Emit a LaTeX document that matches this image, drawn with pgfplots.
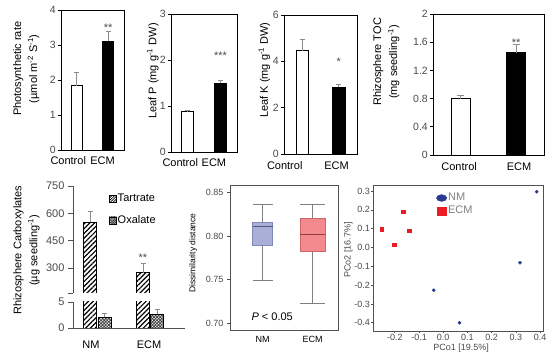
\documentclass[border=0pt]{standalone}
\usepackage{fontspec}
\setmainfont{Liberation Sans}
\usepackage{pgfplots}
\pgfplotsset{compat=1.18}
\usepgfplotslibrary{statistics}
\usetikzlibrary{patterns.meta}

\definecolor{tickgray}{HTML}{4A4A4A}
\definecolor{errgray}{HTML}{8C8C8C}
\definecolor{nmfill}{HTML}{A9AFD6}
\definecolor{nmedge}{HTML}{8088B5}
\definecolor{nmmed}{HTML}{4F567F}
\definecolor{ecmfill}{HTML}{F48A8E}
\definecolor{ecmedge}{HTML}{C8666A}
\definecolor{ecmmed}{HTML}{8E3C40}
\definecolor{pcblue}{HTML}{2B3990}
\definecolor{pcred}{HTML}{EC1C24}
\definecolor{boxgray}{HTML}{505050}

\newcommand\fA{\fontsize{11}{16}\selectfont}
\newcommand\fB{\fontsize{10.5}{12}\selectfont}
\newcommand\fC{\fontsize{9}{11}\selectfont}
\newcommand\fD{\fontsize{8.5}{10}\selectfont}

\tikzset{sigstar/.style={font=\fA, text=tickgray, anchor=base, yshift=-6.3pt}}

\pgfplotsset{
  topbar/.style={
    scale only axis, anchor=south west,
    xmin=0.5, xmax=2.5, ymin=0,
    xticklabels={Control,ECM},
    x tick style={draw=none},
    ytick pos=left, tick align=outside, major tick length=3pt,
    axis line style={line width=0.8pt},
    tick style={black, line width=0.6pt},
    yticklabel style={font=\fB, text=tickgray, inner sep=2pt},
    xticklabel style={font=\fA, text=black, inner sep=1.5pt},
    ylabel style={align=center, anchor=center, font=\fA},
    /pgf/number format/assume math mode=true,
    ybar,
  },
  ctrl/.style={fill=white, draw=black, line width=0.6pt, bar shift=0pt},
  ecm/.style={fill=black, draw=black, line width=0.6pt, bar shift=0pt},
  eb/.style={error bars/y dir=plus, error bars/y explicit,
    error bars/error bar style={errgray, line width=0.7pt},
    error bars/error mark options={rotate=90, errgray, mark size=#1, line width=0.7pt}},
  eb/.default=2.5pt,
  tart/.style={draw=black, line width=0.6pt, pattern={Lines[angle=45,distance=3.4pt,line width=1.2pt]}, pattern color=black, bar shift=0pt},
  oxal/.style={draw=black, line width=0.6pt, pattern={Hatch[angle=45,distance=2.2pt,line width=0.8pt]}, pattern color=black!75, bar shift=0pt},
}

\begin{document}
\begin{tikzpicture}[x=1pt,y=1pt]
\useasboundingbox (0,0) rectangle (558,356);

% ---------- Panel 1: photosynthetic rate
\begin{axis}[topbar, at={(61pt,206pt)}, width=63pt, height=140pt, ymax=4, ytick={0,1,2,3,4}, bar width=11pt,
  xtick={0.73,1.82}, xticklabel style={yshift=-2pt},
  ylabel={Photosynthetic rate\\(µmol m\textsuperscript{-2} S\textsuperscript{-1})},
  ylabel style={at={(axis description cs:-0.55,0.58)}}]
\addplot[ctrl, eb] coordinates {(1,1.84) +- (0,0.37)};
\addplot[ecm, eb] coordinates {(2,3.10) +- (0,0.28)};
\node[sigstar] at (axis cs:2,3.57) {**};
\end{axis}

% ---------- Panel 2: leaf P
\begin{axis}[topbar, at={(171pt,204pt)}, width=66pt, height=138pt, ymax=3, ytick={0,1,2,3}, bar width=11.5pt,
  xtick={0.78,1.80}, xticklabel style={yshift=-2pt},
  ylabel={Leaf P (mg g\textsuperscript{-1} DW)},
  ylabel style={at={(axis description cs:-0.275,0.587)}}]
\addplot[ctrl, eb] coordinates {(1,0.88) +- (0,0.02)};
\addplot[ecm, eb] coordinates {(2,1.50) +- (0,0.06)};
\node[sigstar] at (axis cs:2,2.15) {***};
\end{axis}

% ---------- Panel 3: leaf K
\begin{axis}[topbar, at={(284pt,202pt)}, width=73pt, height=139pt, ymax=6, ytick={0,2,4,6}, bar width=12.3pt,
  xtick={0.52,1.94}, xticklabel style={yshift=-3pt},
  ylabel={Leaf K (mg g\textsuperscript{-1} DW)},
  ylabel style={at={(axis description cs:-0.27,0.604)}}]
\addplot[ctrl, eb] coordinates {(1,4.46) +- (0,0.50)};
\addplot[ecm, eb] coordinates {(2,2.90) +- (0,0.10)};
\node[sigstar] at (axis cs:2,4.1) {*};
\end{axis}

% ---------- Panel 4: rhizosphere TOC
\begin{axis}[topbar, at={(433pt,201pt)}, width=111pt, height=141pt, ymax=2, ytick={0,0.4,0.8,1.2,1.6,2}, bar width=19pt,
  xtick={0.97,2.05}, xticklabel style={yshift=-3pt},
  ylabel={Rhizosphere TOC\\(mg seedling\textsuperscript{-1})},
  ylabel style={at={(axis description cs:-0.42,0.66)}}]
\addplot[ctrl, eb=3.5pt] coordinates {(1,0.80) +- (0,0.05)};
\addplot[ecm, eb=3.5pt] coordinates {(2,1.45) +- (0,0.12)};
\node[sigstar] at (axis cs:2,1.63) {**};
\end{axis}

% ---------- Panel 5: carboxylates (broken axis), upper part
\begin{axis}[scale only axis, anchor=south west, at={(73pt,63pt)}, width=112pt, height=107pt,
  xmin=0, xmax=112, ymin=164, ymax=750,
  axis x line=none, axis y line*=left,
  ytick={300,450,600,750}, extra y ticks={164}, extra y tick labels={},
  tick align=outside, major tick length=5pt,
  axis line style={boxgray, line width=0.8pt},
  tick style={boxgray, line width=0.7pt},
  yticklabel style={font=\fA, text=tickgray},
  ylabel={Rhizosphere Carboxylates\\(µg seedling\textsuperscript{-1})},
  ylabel style={align=center, anchor=center, font=\fA, at={(axis description cs:-0.415,0.40)}},
  /pgf/number format/assume math mode=true,
  ybar, bar width=13pt,
  legend style={draw=none, fill=none, at={(axis description cs:0.32,0.94)}, anchor=north west,
    font=\fA, inner sep=0pt, row sep=9pt, nodes={inner sep=1pt, text height=8pt, text depth=2.5pt}},
  legend cell align=left]
\addplot[tart, eb,
  legend image code/.code={\draw[black, line width=0.5pt, pattern={Lines[angle=45,distance=1.8pt,line width=0.7pt]}] (0pt,-3.5pt) rectangle (7pt,3.5pt);}]
  coordinates {(17,551) +- (0,58) (70,276) +- (0,51)};
\addlegendentry{Tartrate}
\addlegendimage{legend image code/.code={\draw[black, line width=0.5pt, pattern={Hatch[angle=45,distance=1.6pt,line width=0.6pt]}, pattern color=black!75] (0pt,-3.5pt) rectangle (7pt,3.5pt);}}
\addlegendentry{Oxalate}
\node[sigstar] at (axis cs:70,371) {**};
\end{axis}

% ---------- Panel 5: lower part
\begin{axis}[scale only axis, anchor=south west, at={(73pt,28pt)}, width=112pt, height=26pt,
  xmin=0, xmax=112, ymin=0, ymax=5,
  axis x line*=bottom, axis y line*=left,
  ytick={0,5}, xtick={18,76}, xticklabels={NM,ECM},
  x tick style={draw=none},
  tick align=outside, major tick length=5pt,
  axis line style={boxgray, line width=0.8pt},
  tick style={boxgray, line width=0.7pt},
  yticklabel style={font=\fA, text=tickgray},
  xticklabel style={font=\fA, text=black, yshift=-4pt},
  /pgf/number format/assume math mode=true,
  ybar, bar width=13pt]
\addplot[tart] coordinates {(17,10) (70,10)};
\addplot[oxal, eb] coordinates {(31.7,2.06) +- (0,0.74) (84,2.69) +- (0,0.91)};
\end{axis}

% ---------- Panel 6: dissimilarity box plot
\begin{axis}[scale only axis, anchor=south west, at={(230pt,26pt)}, width=108pt, height=145pt,
  xmin=0.343, xmax=2.512, ymin=0.6923, ymax=0.8588,
  xtick={1,2}, xticklabels={NM,ECM}, x tick style={draw=none},
  ytick={0.70,0.75,0.80,0.85}, ytick pos=left,
  tick align=outside, major tick length=3pt,
  axis line style={boxgray, line width=0.8pt},
  tick style={boxgray, line width=0.6pt},
  yticklabel style={font=\fC, text=tickgray, /pgf/number format/.cd, fixed, fixed zerofill, precision=2},
  xticklabel style={font=\fC, text=black},
  ylabel={Dissimilarity distance},
  ylabel style={font=\fD, anchor=center, at={(axis description cs:-0.34,0.53)}},
  boxplot/draw direction=y,
  /pgf/number format/assume math mode=true]
\addplot[boxplot/draw direction=y,
  boxplot prepared={draw position=1, lower whisker=0.7495, lower quartile=0.7892,
    median=0.8106, upper quartile=0.8156, upper whisker=0.837, box extend=0.40, whisker extend=0.40},
  boxplot/every box/.style={draw=nmedge, fill=nmfill, line width=0.8pt},
  boxplot/every whisker/.style={draw=gray, line width=0.8pt},
  boxplot/every median/.style={draw=nmmed, line width=1pt}] coordinates {};
\addplot[boxplot/draw direction=y,
  boxplot prepared={draw position=2, lower whisker=0.7231, lower quartile=0.7823,
    median=0.8023, upper quartile=0.8206, upper whisker=0.837, box extend=0.50, whisker extend=0.50},
  boxplot/every box/.style={draw=ecmedge, fill=ecmfill, line width=0.8pt},
  boxplot/every whisker/.style={draw=gray, line width=0.8pt},
  boxplot/every median/.style={draw=ecmmed, line width=1pt}] coordinates {};
\node[font=\fA, anchor=center] at (axis cs:1.19,0.7073) {\textit{P} < 0.05};
\end{axis}

% ---------- Panel 7: PCoA
\begin{axis}[scale only axis, anchor=south west, at={(373pt,25pt)}, width=170pt, height=146pt,
  xmin=-0.29, xmax=0.412, ymin=-0.444, ymax=0.332,
  xtick={-0.2,-0.1,0,0.1,0.2,0.3,0.4}, ytick={-0.4,-0.3,-0.2,-0.1,0,0.1,0.2,0.3},
  xtick pos=bottom, ytick pos=left,
  tick align=outside, major tick length=2pt,
  axis line style={boxgray, line width=0.8pt},
  tick style={boxgray, line width=0.6pt},
  ticklabel style={font=\fC, text=tickgray, inner sep=1pt, /pgf/number format/.cd, fixed, fixed zerofill, precision=1},
  /pgf/number format/assume math mode=true,
  xlabel={PCo1 [19.5\%]}, ylabel={PCo2 [16.7\%]},
  label style={font=\fC, text=tickgray},
  xlabel style={anchor=center, at={(axis description cs:0.518,-0.115)}},
  ylabel style={anchor=center, at={(axis description cs:-0.145,0.555)}},
  legend style={draw=none, fill=none, at={(axis description cs:0.371,0.955)}, anchor=north west,
    font=\fA, text=gray, inner sep=0pt, row sep=0.5pt, nodes={inner sep=1pt, text height=8pt, text depth=2.5pt}},
  legend cell align=left]
\addplot[only marks, mark=*, mark size=1.6pt, color=pcblue,
  legend image code/.code={\fill[pcblue] (5.2pt,0pt) ellipse (5.2pt and 3.4pt);}]
  coordinates {(0.386,0.296) (0.317,-0.081) (-0.039,-0.227) (0.067,-0.400)};
\addlegendentry{NM}
\addplot[only marks, mark=square*, mark size=1.7pt, color=pcred,
  legend image code/.code={\fill[pcred] (1pt,-3.9pt) rectangle (9.3pt,3.9pt);}]
  coordinates {(-0.165,0.190) (-0.255,0.098) (-0.140,0.089) (-0.203,0.014)};
\addlegendentry{ECM}
\end{axis}

\end{tikzpicture}
\end{document}
